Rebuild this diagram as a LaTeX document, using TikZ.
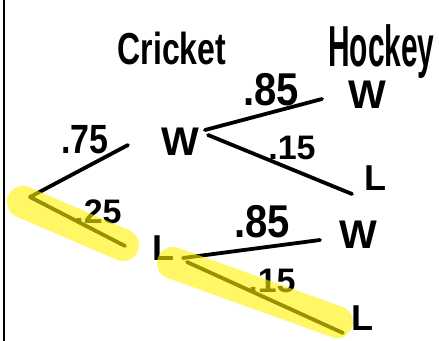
\documentclass[tikz,border=0pt]{standalone}
\usepackage{fontspec}
\setmainfont{Liberation Sans}
\begin{document}
\begin{tikzpicture}[x=1pt,y=-1pt,
  txt/.style={inner sep=0pt, font=\bfseries},
  branch/.style={line width=3.8pt, line cap=round},
  hl/.style={line width=32pt, line cap=round, draw=yellow, draw opacity=0.6}]
\useasboundingbox (0,0) rectangle (439,340);
\fill[white] (0,0) rectangle (439,340);
\draw[line width=1.5pt] (4,-2) -- (4,342);
% headers
\node[txt, anchor=base] (cricket) at (172,64) {\fontsize{32}{32}\selectfont\scalebox{1}[1.4]{Cricket}};
\node[txt, anchor=base west] (hockey) at (328,66) {\fontsize{34}{34}\selectfont\scalebox{0.88}[1.7]{Hockey}};
% outcomes
\node[txt] (w1) at (180,142) {\fontsize{40}{40}\selectfont W};
\node[txt] (l2) at (163,248) {\fontsize{36}{36}\selectfont L};
\node[txt] (w2) at (367,95) {\fontsize{40}{40}\selectfont W};
\node[txt] (l1) at (375,178) {\fontsize{36}{36}\selectfont L};
\node[txt] (w3) at (358,235) {\fontsize{40}{40}\selectfont W};
\node[txt] (l3) at (362,318) {\fontsize{36}{36}\selectfont L};
% probabilities
\node[txt] (p75) at (85,140) {\fontsize{34}{34}\selectfont\scalebox{1}[1.2]{.75}};
\node[txt] (p25) at (98,212) {\fontsize{34}{34}\selectfont .25};
\node[txt] (p85a) at (271,90) {\fontsize{40}{40}\selectfont\scalebox{1}[1.15]{.85}};
\node[txt] (p15a) at (292,148) {\fontsize{34}{34}\selectfont .15};
\node[txt] (p85b) at (262,222) {\fontsize{40}{40}\selectfont\scalebox{1}[1.15]{.85}};
\node[txt] (p15b) at (272,281) {\fontsize{34}{34}\selectfont .15};
% connector ends
\coordinate (root) at (30,197);
\coordinate (w1in) at (128,145);
\coordinate (l2in) at (125,246);
\coordinate (w1a) at (205,130);
\coordinate (w1b) at (208,135);
\coordinate (w2in) at (322,99);
\coordinate (l1in) at (352,194);
\coordinate (l2a) at (183,258);
\coordinate (l2b) at (187,262);
\coordinate (w3in) at (320,240);
\coordinate (l3in) at (343,333);
\draw[branch] (root) -- (w1in);
\draw[branch] (root) -- (l2in);
\draw[branch] (w1a) -- (w2in);
\draw[branch] (w1b) -- (l1in);
\draw[branch] (l2a) -- (w3in);
\draw[branch] (l2b) -- (l3in);
% highlights
\draw[hl] (23,202) -- (123,245);
\draw[hl] (173,263) -- (337,322);
\end{tikzpicture}
\end{document}
